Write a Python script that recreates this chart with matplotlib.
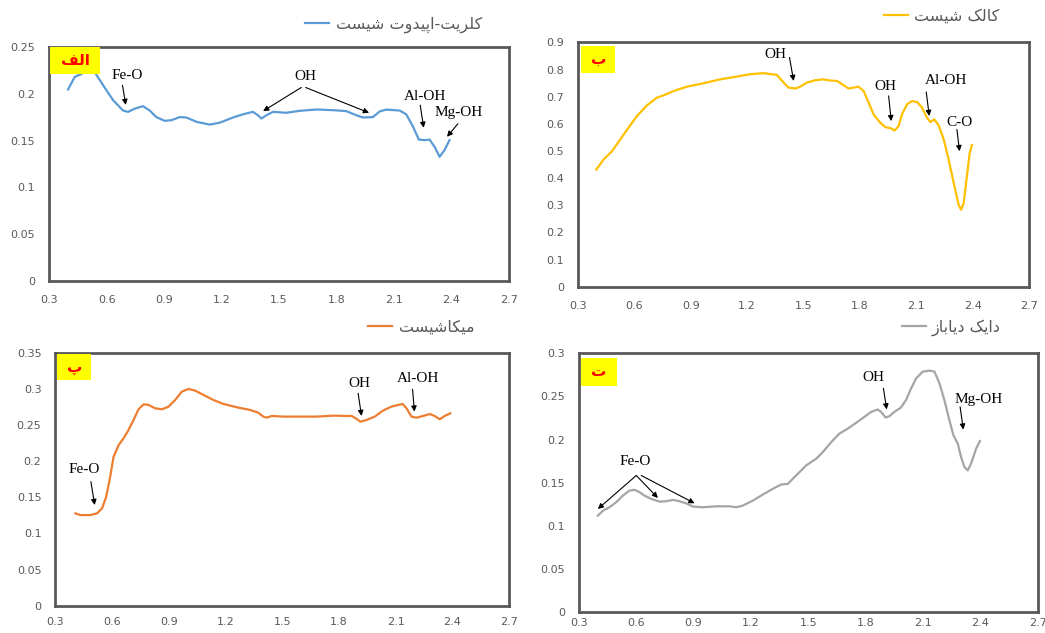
import matplotlib
matplotlib.use("Agg")
import matplotlib.pyplot as plt
from matplotlib.patches import Rectangle


# ---- data ----
WAVE_A = [0.399, 0.434, 0.469, 0.509, 0.538, 0.582, 0.634, 0.686, 0.712, 0.747,
          0.79, 0.825, 0.86, 0.903, 0.938, 0.982, 1.016, 1.069, 1.138, 1.19,
          1.26, 1.312, 1.364, 1.39, 1.408, 1.434, 1.469, 1.538, 1.608, 1.695,
          1.782, 1.851, 1.903, 1.938, 1.99, 2.025, 2.06, 2.13, 2.164, 2.199,
          2.23, 2.26, 2.286, 2.312, 2.338, 2.364, 2.39]
REFL_A = [0.2045, 0.218, 0.221, 0.2276, 0.223, 0.209, 0.193, 0.182, 0.1806, 0.184,
          0.1867, 0.182, 0.175, 0.171, 0.1717, 0.175, 0.1746, 0.170, 0.167, 0.169,
          0.1746, 0.178, 0.1806, 0.177, 0.1735, 0.177, 0.1806, 0.1796, 0.1817, 0.1831,
          0.1824, 0.1814, 0.177, 0.1746, 0.175, 0.181, 0.183, 0.182, 0.178, 0.165,
          0.151, 0.1504, 0.151, 0.1433, 0.1326, 0.1398, 0.1504]

WAVE_B = [0.398, 0.436, 0.481, 0.525, 0.569, 0.614, 0.667, 0.72, 0.756, 0.809,
          0.88, 0.968, 1.057, 1.145, 1.216, 1.287, 1.358, 1.394, 1.42, 1.456,
          1.482, 1.518, 1.562, 1.603, 1.642, 1.678, 1.713, 1.74, 1.766, 1.792,
          1.819, 1.846, 1.872, 1.908, 1.934, 1.961, 1.984, 2.005, 2.023, 2.05,
          2.076, 2.103, 2.13, 2.156, 2.174, 2.195, 2.218, 2.245, 2.271, 2.298,
          2.324, 2.337, 2.351, 2.368, 2.383, 2.395]
REFL_B = [0.4316, 0.4685, 0.499, 0.5425, 0.5857, 0.6288, 0.668, 0.6966, 0.705, 0.721,
          0.737, 0.7496, 0.764, 0.774, 0.783, 0.7866, 0.7804, 0.752, 0.7336, 0.73,
          0.737, 0.752, 0.7607, 0.764, 0.7595, 0.758, 0.742, 0.73, 0.7336, 0.737,
          0.721, 0.678, 0.635, 0.604, 0.588, 0.5844, 0.5758, 0.5918, 0.635, 0.672,
          0.684, 0.6806, 0.6596, 0.6226, 0.6066, 0.6165, 0.5943, 0.5425, 0.4685, 0.382,
          0.302, 0.2836, 0.308, 0.4069, 0.493, 0.5215]

WAVE_C = [0.406, 0.432, 0.485, 0.52, 0.547, 0.569, 0.59, 0.608, 0.635, 0.661,
          0.687, 0.714, 0.74, 0.767, 0.793, 0.828, 0.864, 0.899, 0.934, 0.969,
          1.004, 1.04, 1.084, 1.136, 1.189, 1.26, 1.33, 1.373, 1.40, 1.418,
          1.445, 1.506, 1.594, 1.682, 1.77, 1.84, 1.867, 1.889, 1.914, 1.946,
          1.99, 2.034, 2.078, 2.114, 2.137, 2.158, 2.184, 2.21, 2.246, 2.281,
          2.307, 2.334, 2.36, 2.39]
REFL_C = [0.1277, 0.1254, 0.1254, 0.1277, 0.1346, 0.1508, 0.1785, 0.206, 0.2223, 0.2315,
          0.243, 0.257, 0.2716, 0.2785, 0.2776, 0.273, 0.2716, 0.2753, 0.2845, 0.296,
          0.2997, 0.2974, 0.2914, 0.2845, 0.279, 0.2744, 0.2707, 0.267, 0.2615, 0.26,
          0.2624, 0.2615, 0.2615, 0.2615, 0.2628, 0.2624, 0.2624, 0.2592, 0.2545, 0.2568,
          0.2615, 0.2698, 0.2753, 0.2776, 0.279, 0.273, 0.2615, 0.26, 0.2624, 0.2651,
          0.2624, 0.2578, 0.2624, 0.266]

WAVE_D = [0.399, 0.426, 0.46, 0.495, 0.53, 0.565, 0.591, 0.617, 0.643, 0.678,
          0.722, 0.757, 0.792, 0.826, 0.861, 0.896, 0.948, 1.018, 1.088, 1.123,
          1.157, 1.21, 1.262, 1.314, 1.358, 1.393, 1.419, 1.454, 1.489, 1.541,
          1.576, 1.62, 1.663, 1.707, 1.75, 1.794, 1.829, 1.863, 1.881, 1.904,
          1.924, 1.95, 1.985, 2.011, 2.038, 2.064, 2.099, 2.134, 2.16, 2.186,
          2.212, 2.238, 2.259, 2.282, 2.299, 2.317, 2.334, 2.351, 2.378, 2.398]
REFL_D = [0.1118, 0.1176, 0.1215, 0.1273, 0.135, 0.1409, 0.1417, 0.139, 0.135, 0.1312,
          0.128, 0.1285, 0.13, 0.1285, 0.126, 0.1223, 0.1215, 0.1226, 0.1226, 0.1215,
          0.1234, 0.1292, 0.1362, 0.1428, 0.1479, 0.1486, 0.1545, 0.1622, 0.17, 0.1777,
          0.1855, 0.197, 0.2069, 0.2127, 0.2193, 0.2263, 0.232, 0.2348, 0.232, 0.2255,
          0.227, 0.232, 0.2371, 0.2457, 0.2593, 0.2709, 0.2787, 0.2798, 0.2787, 0.2651,
          0.2457, 0.2224, 0.2049, 0.1952, 0.1797, 0.168, 0.1642, 0.1719, 0.1894, 0.1983]

SERIES_NAMES = ["کلریت-اپیدوت شیست", "کالک شیست", "میکاشیست", "دایک دیاباز"]
PANEL_LABELS = ["الف", "ب", "پ", "ت"]
Y_MAX = [0.25, 0.9, 0.35, 0.3]
Y_STEP = [0.05, 0.1, 0.05, 0.05]

# (text, text_x, text_y, [(tail_x, tail_y, head_x, head_y), ...])
NOTES_A = [
    ("Fe-O", 0.709, 0.219, [(0.683, 0.209, 0.700, 0.188)]),
    ("OH", 1.639, 0.2187, [(1.616, 0.2066, 1.417, 0.1814), (1.639, 0.2066, 1.970, 0.1796)]),
    ("Al-OH", 2.26, 0.1967, [(2.237, 0.1878, 2.255, 0.1636)]),
    ("Mg-OH", 2.439, 0.180, [(2.434, 0.168, 2.377, 0.154)]),
]
NOTES_B = [
    ("OH", 1.349, 0.854, [(1.425, 0.8446, 1.447, 0.758)]),
    ("OH", 1.934, 0.737, [(1.952, 0.703, 1.966, 0.610)]),
    ("Al-OH", 2.258, 0.7607, [(2.152, 0.7175, 2.168, 0.629)]),
    ("C-O", 2.329, 0.6066, [(2.315, 0.5795, 2.329, 0.4993)]),
]
NOTES_C = [
    ("Fe-O", 0.455, 0.1877, [(0.488, 0.1715, 0.508, 0.1393)]),
    ("OH", 1.908, 0.3066, [(1.902, 0.2937, 1.920, 0.2624)]),
    ("Al-OH", 2.219, 0.3136, [(2.190, 0.2993, 2.200, 0.2684)]),
]
NOTES_D = [
    ("Fe-O", 0.593, 0.175, [(0.600, 0.1583, 0.399, 0.1195), (0.600, 0.1583, 0.713, 0.1323),
                            (0.626, 0.1583, 0.905, 0.1261)]),
    ("OH", 1.842, 0.2717, [(1.893, 0.2593, 1.910, 0.2348)]),
    ("Mg-OH", 2.391, 0.2464, [(2.294, 0.2379, 2.311, 0.2115)]),
]

COLORS = ["#5B9BD5", "#FFC000", "#ED7D31", "#A5A5A5"]
GRAY = "#595959"

# axes rectangles in figure fraction
AX_RECTS = [
    [0.047, 0.556, 0.440, 0.370],
    [0.553, 0.547, 0.432, 0.386],
    [0.053, 0.043, 0.434, 0.400],
    [0.554, 0.033, 0.439, 0.409],
]
X_PADS = [10, 10, 8, 4]
LEGEND_ANCHORS = [(0.955, 1.094), (0.948, 1.107), (0.938, 1.099), (0.934, 1.100)]
LABEL_BOXES = [(0.003, 0.883, 0.107, 0.117), (0.007, 0.874, 0.076, 0.112),
               (0.004, 0.890, 0.075, 0.105), (0.005, 0.873, 0.078, 0.110)]


# matplotlib does not join arabic letters, so pick the presentation forms by hand
ARABIC_FORMS = {
    "ا": ("\uFE8D", "\uFE8E"),
    "د": ("\uFEA9", "\uFEAA"),
    "ر": ("\uFEAD", "\uFEAE"),
    "ز": ("\uFEAF", "\uFEB0"),
    "و": ("\uFEED", "\uFEEE"),
    "ب": ("\uFE8F", "\uFE90", "\uFE91", "\uFE92"),
    "پ": ("\uFB56", "\uFB57", "\uFB58", "\uFB59"),
    "ت": ("\uFE95", "\uFE96", "\uFE97", "\uFE98"),
    "س": ("\uFEB1", "\uFEB2", "\uFEB3", "\uFEB4"),
    "ش": ("\uFEB5", "\uFEB6", "\uFEB7", "\uFEB8"),
    "ف": ("\uFED1", "\uFED2", "\uFED3", "\uFED4"),
    "ک": ("\uFB8E", "\uFB8F", "\uFB90", "\uFB91"),
    "ل": ("\uFEDD", "\uFEDE", "\uFEDF", "\uFEE0"),
    "م": ("\uFEE1", "\uFEE2", "\uFEE3", "\uFEE4"),
    "ی": ("\uFBFC", "\uFBFD", "\uFBFE", "\uFBFF"),
}


def joins_left(ch):
    return ch in ARABIC_FORMS and len(ARABIC_FORMS[ch]) == 4


def shape_persian(text):
    out = []
    for i, ch in enumerate(text):
        if ch not in ARABIC_FORMS:
            out.append(ch)
            continue
        prev = text[i - 1] if i > 0 else ""
        nxt = text[i + 1] if i + 1 < len(text) else ""
        forms = ARABIC_FORMS[ch]
        join_prev = joins_left(prev)
        join_next = joins_left(ch) and nxt in ARABIC_FORMS
        if join_prev and join_next:
            out.append(forms[3])
        elif join_prev:
            out.append(forms[1])
        elif join_next:
            out.append(forms[2])
        else:
            out.append(forms[0])
    return "".join(reversed(out))


def fmt_tick(v):
    return f"{round(v, 3):g}"


def draw_panel(fig, idx, wave, refl, notes):
    ax = fig.add_axes(AX_RECTS[idx])

    ax.plot(wave, refl, color=COLORS[idx], lw=1.6, label=shape_persian(SERIES_NAMES[idx]))

    ax.set_xlim(0.3, 2.7)
    ax.set_ylim(0, Y_MAX[idx])
    xt = [0.3 + 0.3 * i for i in range(9)]
    n_y = int(round(Y_MAX[idx] / Y_STEP[idx])) + 1
    yt = [Y_STEP[idx] * i for i in range(n_y)]
    ax.set_xticks(xt)
    ax.set_xticklabels([fmt_tick(v) for v in xt])
    ax.set_yticks(yt)
    ax.set_yticklabels([fmt_tick(v) for v in yt])
    ax.tick_params(length=0, labelsize=8, labelcolor=GRAY)
    ax.tick_params(axis="y", pad=10)
    ax.tick_params(axis="x", pad=X_PADS[idx])

    for spine in ax.spines.values():
        spine.set_color(GRAY)
        spine.set_linewidth(2.0)

    for text, tx, ty, arrows in notes:
        ax.text(tx, ty, text, ha="center", va="center", fontsize=11,
                family="Liberation Serif", color="black")
        for x0, y0, x1, y1 in arrows:
            ax.annotate("", xy=(x1, y1), xytext=(x0, y0),
                        arrowprops=dict(arrowstyle="-|>", color="black", lw=0.8,
                                        mutation_scale=8, shrinkA=0, shrinkB=0))

    bx, by, bw, bh = LABEL_BOXES[idx]
    ax.add_patch(Rectangle((bx, by), bw, bh, transform=ax.transAxes,
                           facecolor="#FFFF00", edgecolor="none", zorder=3))
    ax.text(bx + bw / 2, by + bh / 2, shape_persian(PANEL_LABELS[idx]),
            transform=ax.transAxes, ha="center", va="center", fontsize=11,
            fontweight="bold", color="#FF0000", zorder=4)

    leg = ax.legend(loc="center right", bbox_to_anchor=LEGEND_ANCHORS[idx],
                    frameon=False, fontsize=11.5, handlelength=1.5,
                    handletextpad=0.4, borderaxespad=0)
    for t in leg.get_texts():
        t.set_color(GRAY)

    return ax


def main():
    plt.rcParams["font.family"] = ["DejaVu Sans"]
    fig = plt.figure(figsize=(10.45, 6.33), dpi=100)

    draw_panel(fig, 0, WAVE_A, REFL_A, NOTES_A)
    draw_panel(fig, 1, WAVE_B, REFL_B, NOTES_B)
    draw_panel(fig, 2, WAVE_C, REFL_C, NOTES_C)
    draw_panel(fig, 3, WAVE_D, REFL_D, NOTES_D)

    fig.savefig("out.png", dpi=100)
    plt.close(fig)


if __name__ == "__main__":
    main()
